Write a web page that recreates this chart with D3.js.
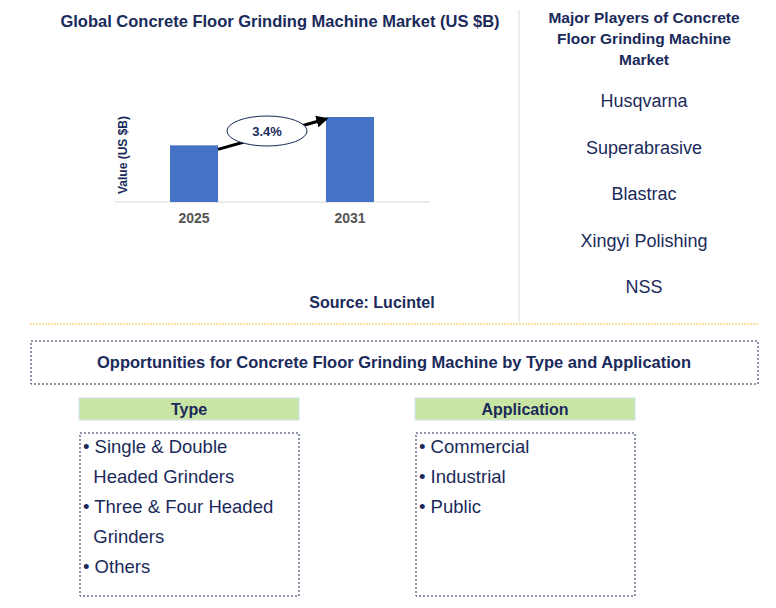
<!DOCTYPE html>
<html><head><meta charset="utf-8">
<script src="https://cdn.jsdelivr.net/npm/d3@7"></script>
<style>body{margin:0;background:#fff;font-family:Arial,"Liberation Sans",sans-serif}</style>
</head><body><div id="chart"></div>
<script>
var years = ["2025", "2031"];
var values = [1.0, 1.5];
var cagr = "3.4%";
var players = ["Husqvarna", "Superabrasive", "Blastrac", "Xingyi Polishing", "NSS"];
var typeItems = [["• Single & Double", "  Headed Grinders"], ["• Three & Four Headed", "  Grinders"], ["• Others"]];
var appItems = [["• Commercial"], ["• Industrial"], ["• Public"]];

var navy = "#1a2a5a";
var svg = d3.select("#chart").append("svg").attr("width", 776).attr("height", 608);

svg.append("defs").append("marker").attr("id", "ah").attr("viewBox", "0 0 10 10")
  .attr("refX", 8).attr("refY", 5).attr("markerWidth", 4).attr("markerHeight", 4).attr("orient", "auto")
  .append("path").attr("d", "M0,0L10,5L0,10z").attr("fill", "#000");

svg.append("text").text("Global Concrete Floor Grinding Machine Market (US $B)")
  .attr("x", 280).attr("y", 27).attr("text-anchor", "middle")
  .attr("font-weight", "bold").attr("font-size", 16.5).attr("fill", navy);

var x = d3.scaleBand().domain(years).range([170, 374]).paddingInner(0.692).paddingOuter(0);
var y = d3.scaleLinear().domain([0, 1.5]).range([202, 117]);

svg.append("line").attr("x1", 115).attr("x2", 430).attr("y1", 202).attr("y2", 202).attr("stroke", "#d9d9d9");
svg.selectAll(".bar").data(values).enter().append("rect")
  .attr("x", function(d, i){ return x(years[i]); })
  .attr("y", function(d){ return y(d); })
  .attr("width", x.bandwidth())
  .attr("height", function(d){ return 202 - y(d); })
  .attr("fill", "#4472c4");
svg.selectAll(".yl").data(years).enter().append("text").text(function(d){ return d; })
  .attr("x", function(d){ return x(d) + x.bandwidth() / 2; }).attr("y", 223)
  .attr("text-anchor", "middle").attr("font-weight", "bold").attr("font-size", 14).attr("fill", "#555");
svg.append("text").text("Value (US $B)").attr("transform", "translate(127,155) rotate(-90)")
  .attr("text-anchor", "middle").attr("font-weight", "bold").attr("font-size", 12).attr("fill", navy);

var x0 = x(years[0]) + x.bandwidth(), x1 = x(years[1]);
svg.append("line").attr("x1", x0).attr("y1", y(values[0]) + 4).attr("x2", x1).attr("y2", y(values[1]) + 2)
  .attr("stroke", "#000").attr("stroke-width", 3).attr("marker-end", "url(#ah)");
svg.append("ellipse").attr("cx", 267).attr("cy", 131).attr("rx", 40).attr("ry", 15)
  .attr("fill", "#fff").attr("stroke", navy);
svg.append("text").text(cagr).attr("x", 267).attr("y", 136).attr("text-anchor", "middle")
  .attr("font-weight", "bold").attr("font-size", 13).attr("fill", navy);

svg.append("text").text("Source: Lucintel").attr("x", 372).attr("y", 308).attr("text-anchor", "middle")
  .attr("font-weight", "bold").attr("font-size", 16).attr("fill", navy);

svg.append("line").attr("x1", 519).attr("x2", 519).attr("y1", 10).attr("y2", 322).attr("stroke", "#d9d9d9");
["Major Players of Concrete", "Floor Grinding Machine", "Market"].forEach(function(t, i){
  svg.append("text").text(t).attr("x", 644).attr("y", 23 + i * 21).attr("text-anchor", "middle")
    .attr("font-weight", "bold").attr("font-size", 15.5).attr("fill", navy);
});
svg.selectAll(".pl").data(players).enter().append("text").text(function(d){ return d; })
  .attr("x", 644).attr("y", function(d, i){ return 107 + i * 46.5; }).attr("text-anchor", "middle")
  .attr("font-size", 18).attr("fill", navy);

svg.append("line").attr("x1", 30).attr("x2", 758).attr("y1", 324).attr("y2", 324)
  .attr("stroke", "#f5c242").attr("stroke-dasharray", "2,1");

svg.append("rect").attr("x", 31).attr("y", 341).attr("width", 727).attr("height", 43)
  .attr("fill", "none").attr("stroke", navy).attr("stroke-dasharray", "2,2");
svg.append("text").text("Opportunities for Concrete Floor Grinding Machine by Type and Application")
  .attr("x", 394).attr("y", 368).attr("text-anchor", "middle")
  .attr("font-weight", "bold").attr("font-size", 16.5).attr("fill", navy);

function panel(px, title, items){
  svg.append("rect").attr("x", px).attr("y", 398).attr("width", 220).attr("height", 22)
    .attr("fill", "#c9e5a3").attr("stroke", "#cfe0f0");
  svg.append("text").text(title).attr("x", px + 110).attr("y", 415).attr("text-anchor", "middle")
    .attr("font-weight", "bold").attr("font-size", 16).attr("fill", navy);
  svg.append("rect").attr("x", px + 1).attr("y", 433).attr("width", 219).attr("height", 163)
    .attr("fill", "none").attr("stroke", navy).attr("stroke-dasharray", "2,2");
  var lines = [];
  items.forEach(function(it){ it.forEach(function(l){ lines.push(l); }); });
  svg.selectAll(null).data(lines).enter().append("text")
    .attr("x", px + 4).attr("y", function(d, i){ return 453 + i * 30; })
    .attr("font-size", 18.5).attr("fill", navy)
    .style("white-space", "pre").text(function(d){ return d; });
}
panel(79, "Type", typeItems);
panel(415, "Application", appItems);
</script></body></html>
